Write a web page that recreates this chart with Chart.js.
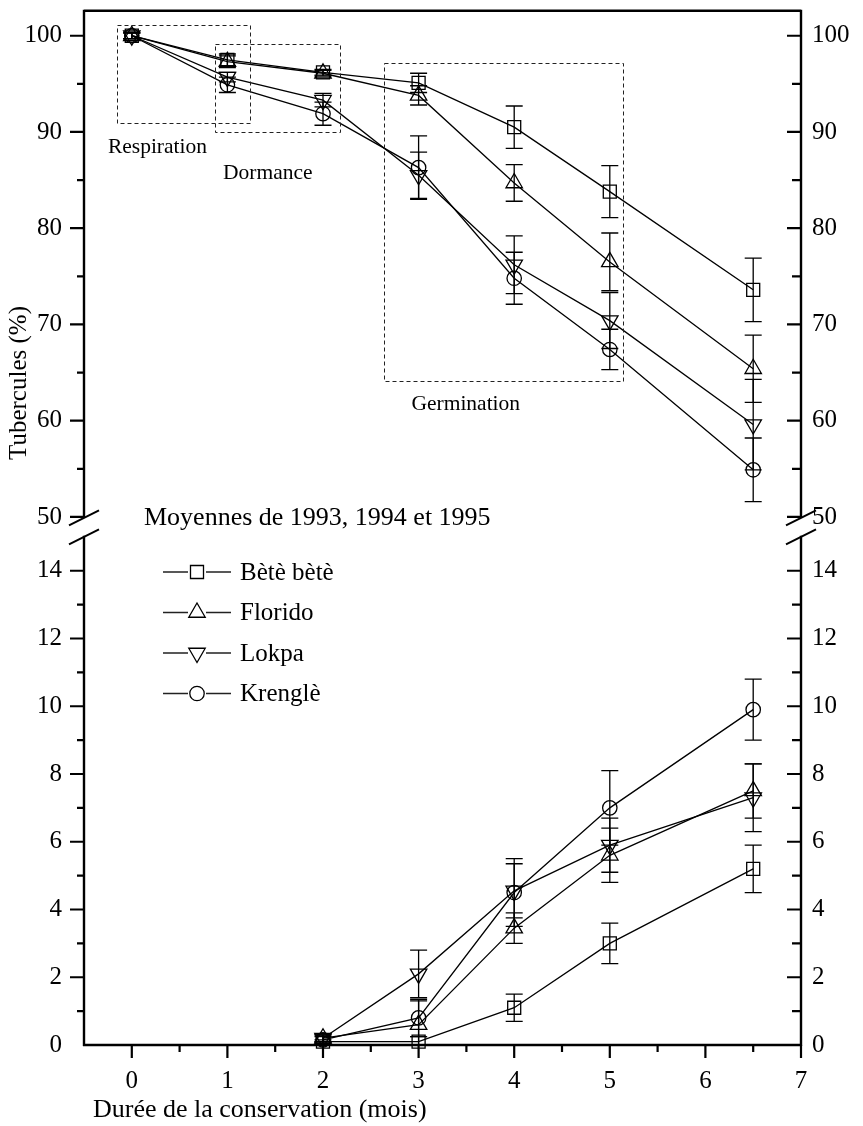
<!DOCTYPE html>
<html>
<head>
<meta charset="utf-8">
<script src="https://cdn.jsdelivr.net/npm/chart.js@4.4.1/dist/chart.umd.min.js"></script>
<style>
html,body{margin:0;padding:0;background:#fff;}
#wrap{position:relative;width:863px;height:1126px;}
canvas{display:block;}
</style>
</head>
<body>
<div id="wrap"><canvas id="c" width="863" height="1126"></canvas></div>
<script>
// ---------------- DATA ----------------
const monthsTop = [0, 1, 2, 3, 4, 5, 6.5];
const monthsBottom = [2, 3, 4, 5, 6.5];
const seriesNames = ['Bètè bètè', 'Florido', 'Lokpa', 'Krenglè'];

// Tubercules restants (%) - upper panel
const beteTop       = [100, 97.5, 96.2, 95.1, 90.5, 83.8, 73.6];
const beteTopErr    = [0.3, 0.6, 0.3, 1.0, 2.2, 2.7, 3.3];
const floridoTop    = [100, 97.3, 96.1, 93.8, 84.7, 76.5, 65.4];
const floridoTopErr = [0.3, 0.6, 0.3, 1.0, 1.9, 3.0, 3.5];
const lokpaTop      = [100, 95.7, 93.3, 85.5, 76.2, 70.4, 59.6];
const lokpaTopErr   = [0.3, 0.5, 0.7, 2.4, 3.0, 2.9, 4.7];
const krengleTop    = [100, 94.9, 91.9, 86.3, 74.8, 67.4, 54.9];
const krengleTopErr = [0.3, 0.8, 1.2, 3.3, 2.7, 2.1, 3.3];

// Tubercules germés (%) - lower panel
const beteBottom       = [0.1, 0.1, 1.1, 3.0, 5.2];
const beteBottomErr    = [0.05, 0.15, 0.4, 0.6, 0.7];
const floridoBottom    = [0.2, 0.6, 3.45, 5.6, 7.5];
const floridoBottomErr = [0.1, 0.7, 0.45, 0.8, 0.8];
const lokpaBottom      = [0.2, 2.1, 4.55, 5.9, 7.3];
const lokpaBottomErr   = [0.1, 0.7, 0.8, 0.8, 1.0];
const krengleBottom    = [0.15, 0.8, 4.5, 7.0, 9.9];
const krengleBottomErr = [0.1, 0.55, 1.0, 1.1, 0.9];

// Tick labels
const xTicks = [0, 1, 2, 3, 4, 5, 6, 7];
const xMinorTicks = [-0.5, 0.5, 1.5, 2.5, 3.5, 4.5, 5.5, 6.5];
const topTicks = [50, 60, 70, 80, 90, 100];
const topMinorTicks = [55, 65, 75, 85, 95];
const bottomTicks = [0, 2, 4, 6, 8, 10, 12, 14];
const bottomMinorTicks = [1, 3, 5, 7, 9, 11, 13];

// Text
const yTitle = 'Tubercules (%)';
const xTitle = 'Durée de la conservation (mois)';
const subTitle = 'Moyennes de 1993, 1994 et 1995';
const phaseNames = ['Respiration', 'Dormance', 'Germination'];

// ---------------- STYLE / LAYOUT ----------------
const SERIF = '"Liberation Serif", "Times New Roman", serif';
const markers = [
  {pointStyle: 'rect', radius: 9.2, rotation: 0},
  {pointStyle: 'triangle', radius: 9.5, rotation: 0},
  {pointStyle: 'triangle', radius: 9.5, rotation: 180},
  {pointStyle: 'circle', radius: 7.2, rotation: 0}
];
// phase boxes (data units on x and upper y scale)
const phaseBoxes = [
  {x0: -0.157, x1: 1.239, y0: 90.9, y1: 101.07, tx: -0.25, ty: 88.4},
  {x0: 0.872, x1: 2.18, y0: 89.93, y1: 99.1, tx: 0.955, ty: 85.7},
  {x0: 2.642, x1: 5.145, y0: 64.18, y1: 97.2, tx: 2.925, ty: 61.7}
];

function mk(label, xs, ys, errs, axis, m) {
  return {
    label: label,
    data: xs.map((x, i) => ({x: x, y: ys[i]})),
    errs: errs,
    yAxisID: axis,
    borderColor: '#000',
    borderWidth: 1.3,
    pointStyle: m.pointStyle,
    pointRadius: m.radius,
    pointHoverRadius: m.radius,
    pointRotation: m.rotation,
    pointBorderColor: '#000',
    pointBorderWidth: 1.3,
    pointBackgroundColor: 'rgba(255,255,255,0)',
    fill: false,
    tension: 0,
    clip: false
  };
}

const topSeries = [beteTop, floridoTop, lokpaTop, krengleTop];
const topErrs = [beteTopErr, floridoTopErr, lokpaTopErr, krengleTopErr];
const botSeries = [beteBottom, floridoBottom, lokpaBottom, krengleBottom];
const botErrs = [beteBottomErr, floridoBottomErr, lokpaBottomErr, krengleBottomErr];

const datasets = [];
seriesNames.forEach((n, i) => datasets.push(mk(n, monthsTop, topSeries[i], topErrs[i], 'yTop', markers[i])));
seriesNames.forEach((n, i) => datasets.push(mk(n, monthsBottom, botSeries[i], botErrs[i], 'yBot', markers[i])));

function drawMarker(ctx, m, x, y) {
  const opts = {pointStyle: m.pointStyle, radius: m.radius, rotation: m.rotation, borderWidth: 1.3};
  ctx.save();
  ctx.strokeStyle = '#000';
  ctx.fillStyle = 'rgba(255,255,255,0)';
  ctx.lineWidth = 1.3;
  if (Chart.helpers && Chart.helpers.drawPoint) {
    Chart.helpers.drawPoint(ctx, opts, x, y);
  }
  ctx.restore();
}

const errorBars = {
  id: 'errorBars',
  beforeDatasetsDraw(chart) {
    const ctx = chart.ctx;
    const xs = chart.scales.x;
    ctx.save();
    ctx.strokeStyle = '#000';
    ctx.lineWidth = 1.3;
    chart.data.datasets.forEach(ds => {
      const ys = chart.scales[ds.yAxisID];
      ds.data.forEach((p, i) => {
        const e = ds.errs[i];
        const px = xs.getPixelForValue(p.x);
        const yHi = ys.getPixelForValue(p.y + e);
        const yLo = Math.min(ys.getPixelForValue(Math.max(p.y - e, ys.min)), ys.bottom);
        ctx.beginPath();
        ctx.moveTo(px, yHi); ctx.lineTo(px, yLo);
        ctx.moveTo(px - 8.5, yHi); ctx.lineTo(px + 8.5, yHi);
        if (p.y - e >= ys.min) { ctx.moveTo(px - 8.5, yLo); ctx.lineTo(px + 8.5, yLo); }
        ctx.stroke();
      });
    });
    ctx.restore();
  }
};

const frame = {
  id: 'frame',
  afterDatasetsDraw(chart) {
    const ctx = chart.ctx;
    const xs = chart.scales.x, yT = chart.scales.yTop, yB = chart.scales.yBot;
    const L = chart.chartArea.left, R = chart.chartArea.right;
    const top = chart.chartArea.top, bot = chart.chartArea.bottom;
    const yBreakTop = yT.getPixelForValue(50);
    const yBreakBot = yB.getPixelForValue(15);
    ctx.save();
    ctx.strokeStyle = '#000';
    ctx.lineCap = 'butt';
    // axis lines
    ctx.lineWidth = 2.4;
    ctx.beginPath();
    ctx.moveTo(L, top); ctx.lineTo(R, top);
    ctx.moveTo(L, top - 1); ctx.lineTo(L, yBreakTop + 1);
    ctx.moveTo(L, yBreakBot - 1); ctx.lineTo(L, bot + 1);
    ctx.moveTo(R, top - 1); ctx.lineTo(R, yBreakTop + 1);
    ctx.moveTo(R, yBreakBot - 1); ctx.lineTo(R, bot + 1);
    ctx.moveTo(L - 1, bot); ctx.lineTo(R + 1, bot);
    ctx.stroke();
    // ticks
    ctx.lineWidth = 2.2;
    ctx.beginPath();
    xTicks.forEach(v => { const p = xs.getPixelForValue(v); ctx.moveTo(p, bot); ctx.lineTo(p, bot + 13); });
    xMinorTicks.forEach(v => { const p = xs.getPixelForValue(v); if (p > L + 2 && p < R - 2) { ctx.moveTo(p, bot); ctx.lineTo(p, bot + 7); } });
    topTicks.forEach(v => { const p = yT.getPixelForValue(v); ctx.moveTo(L, p); ctx.lineTo(L - 14, p); ctx.moveTo(R, p); ctx.lineTo(R - 14, p); });
    topMinorTicks.forEach(v => { const p = yT.getPixelForValue(v); ctx.moveTo(L, p); ctx.lineTo(L - 7, p); ctx.moveTo(R, p); ctx.lineTo(R - 9, p); });
    bottomTicks.forEach(v => { const p = yB.getPixelForValue(v); if (p < bot - 2) { ctx.moveTo(L, p); ctx.lineTo(L - 14, p); ctx.moveTo(R, p); ctx.lineTo(R - 14, p); } });
    bottomMinorTicks.forEach(v => { const p = yB.getPixelForValue(v); ctx.moveTo(L, p); ctx.lineTo(L - 7, p); ctx.moveTo(R, p); ctx.lineTo(R - 9, p); });
    ctx.stroke();
    // break marks
    ctx.lineWidth = 2;
    ctx.beginPath();
    [L, R].forEach(ax => {
      [yBreakTop + 1, yBreakBot].forEach(cy => {
        ctx.moveTo(ax - 15, cy + 7.5); ctx.lineTo(ax + 15, cy - 7.5);
      });
    });
    ctx.stroke();
    // phase boxes
    ctx.lineWidth = 1;
    ctx.setLineDash([4, 3]);
    ctx.strokeStyle = '#222';
    phaseBoxes.forEach(b => {
      const x0 = xs.getPixelForValue(b.x0), x1 = xs.getPixelForValue(b.x1);
      const y0 = yT.getPixelForValue(b.y1), y1 = yT.getPixelForValue(b.y0);
      ctx.strokeRect(Math.round(x0) + 0.5, Math.round(y0) + 0.5, Math.round(x1 - x0), Math.round(y1 - y0));
    });
    ctx.setLineDash([]);
    // phase labels
    ctx.fillStyle = '#000';
    ctx.font = '21.5px ' + SERIF;
    ctx.textAlign = 'left';
    ctx.textBaseline = 'middle';
    phaseBoxes.forEach((b, i) => {
      ctx.fillText(phaseNames[i], xs.getPixelForValue(b.tx), yT.getPixelForValue(b.ty));
    });
    // subtitle
    ctx.font = '26px ' + SERIF;
    ctx.fillText(subTitle, 144, 518);
    // legend
    ctx.font = '25px ' + SERIF;
    seriesNames.forEach((n, i) => {
      const ly = 572 + i * 40.5;
      ctx.lineWidth = 1.3;
      ctx.beginPath();
      ctx.moveTo(163, ly); ctx.lineTo(188, ly);
      ctx.moveTo(206, ly); ctx.lineTo(231, ly);
      ctx.stroke();
      drawMarker(ctx, markers[i], 197, ly);
      ctx.fillText(n, 240, ly + 1);
    });
    // axis titles
    ctx.font = '26px ' + SERIF;
    ctx.textAlign = 'left';
    ctx.fillText(xTitle, 93, 1110);
    ctx.save();
    ctx.translate(19, 383);
    ctx.rotate(-Math.PI / 2);
    ctx.textAlign = 'center';
    ctx.font = '25px ' + SERIF;
    ctx.fillText(yTitle, 0, 0);
    ctx.restore();
    ctx.restore();
  }
};

const tickFont = {family: SERIF, size: 25};
function yScale(min, max, pos, weight, stackWeight, ticksArr, pad, fitW) {
  return {
    type: 'linear', position: pos, stack: pos, stackWeight: stackWeight, weight: weight,
    min: min, max: max,
    afterBuildTicks: s => { s.ticks = ticksArr.map(v => ({value: v})); },
    afterFit: s => { s.width = fitW; s.paddingTop = 0; s.paddingBottom = 0; },
    grid: {display: false, drawTicks: false},
    border: {display: false},
    ticks: {font: tickFont, color: '#000', padding: pad, autoSkip: false}
  };
}

new Chart(document.getElementById('c'), {
  type: 'line',
  data: {datasets: datasets},
  options: {
    responsive: false,
    devicePixelRatio: 1,
    animation: false,
    events: [],
    layout: {padding: {top: 7, left: 0, right: 0, bottom: 0}},
    plugins: {legend: {display: false}, tooltip: {enabled: false}, title: {display: false}},
    scales: {
      x: {
        type: 'linear', position: 'bottom', min: -0.5, max: 7,
        afterBuildTicks: s => { s.ticks = xTicks.map(v => ({value: v})); },
        afterFit: s => { s.height = 81; s.paddingLeft = 0; s.paddingRight = 0; },
        grid: {display: false, drawTicks: false},
        border: {display: false},
        ticks: {font: tickFont, color: '#000', padding: 21, autoSkip: false, maxRotation: 0}
      },
      yTop: yScale(50, 102.59, 'left', 2, 508, topTicks, 22, 84),
      yBot: yScale(0, 15.588, 'left', 1, 530, bottomTicks, 22, 84),
      yTopR: yScale(50, 102.59, 'right', 1, 508, topTicks, 11, 62),
      yBotR: yScale(0, 15.588, 'right', 2, 530, bottomTicks, 11, 62)
    }
  },
  plugins: [errorBars, frame]
});
</script>
</body>
</html>
